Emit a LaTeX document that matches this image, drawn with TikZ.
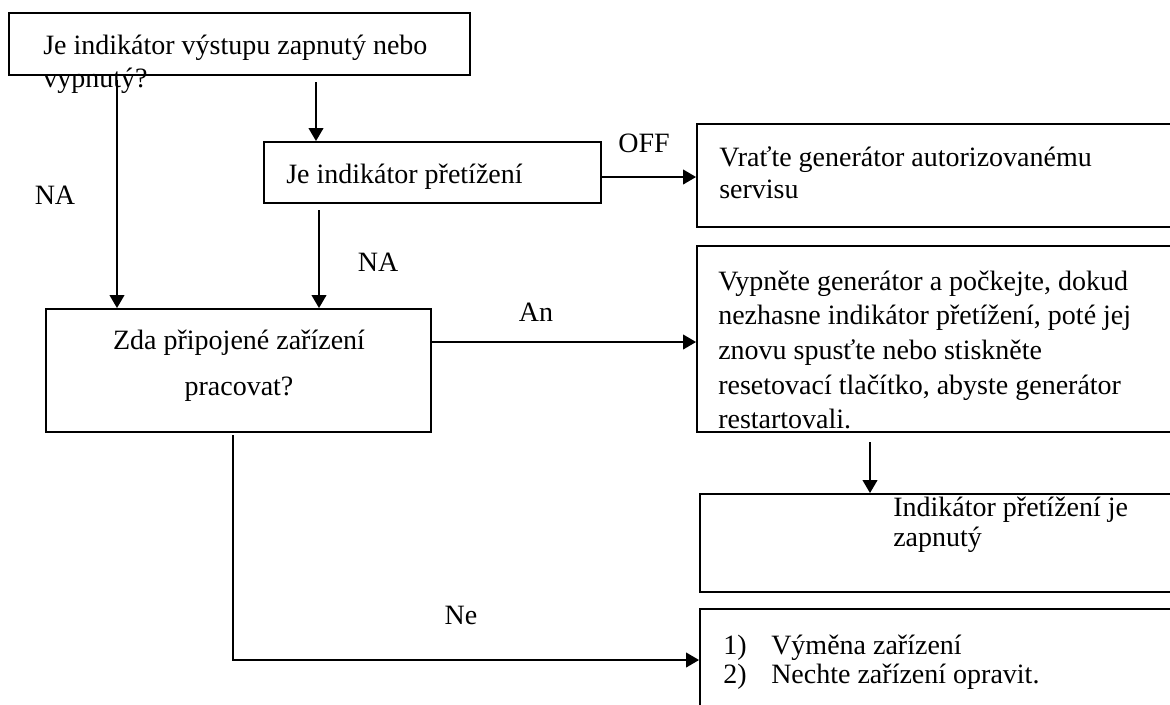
\documentclass[tikz,border=0pt]{standalone}
\usepackage{fontspec}
\setmainfont{Liberation Serif}
\usetikzlibrary{arrows.meta}
\usetikzlibrary{fit}

\tikzset{
  flowbox/.style={draw, line width=1.4pt, inner sep=0pt},
  flowarrow/.style={line width=1.4pt, -{Triangle[length=9.75pt,width=11pt]}},
  flowtext/.style={inner sep=0.75pt, font=\fontsize{21}{25}\selectfont, align=left},
}

\begin{document}
\begin{tikzpicture}[x=0.75pt,y=0.75pt,yscale=-1,xscale=1]
\clip (0,0) rectangle (1170,704);

%Flowchart: Process
\node [flowbox, fit={(9,13) (470,75)}] (q1) {};
%Flowchart: Process
\node [flowbox, fit={(264,142) (601,203)}] (q2) {};
%Flowchart: Process
\node [flowbox, fit={(46,309) (431,432)}] (q3) {};
%Flowchart: Process
\node [flowbox, fit={(697,124) (1190,227)}] (r1) {};
%Flowchart: Process
\node [flowbox, fit={(697,246) (1190,432)}] (r2) {};
%Flowchart: Process
\node [flowbox, fit={(700,494) (1190,592)}] (r3) {};
%Flowchart: Process
\node [flowbox, fit={(700,609) (1190,730)}] (r4) {};

%Straight Lines
\coordinate (c1) at (316,82);
\draw [flowarrow] (c1) -- (c1 |- q2.north);
%Straight Lines
\coordinate (c2) at (117,80);
\draw [flowarrow] (c2) -- (c2 |- q3.north);
%Straight Lines
\coordinate (c3) at (319,210);
\draw [flowarrow] (c3) -- (c3 |- q3.north);
%Straight Lines
\draw [flowarrow] (q2.east |- 0,177) -- (r1.west |- 0,177);
%Straight Lines
\draw [flowarrow] (q3.east |- 0,342) -- (r2.west |- 0,342);
%Straight Lines
\coordinate (c5) at (870,442);
\draw [flowarrow] (c5) -- (c5 |- r3.north);
%Straight Lines
\coordinate (c6) at (233,435);
\draw [flowarrow] (c6) |- (r4.west |- 0,660);

% Text Node
\node [flowtext, anchor=west] (t1) at (42,64) {Je indikátor výstupu zapnutý nebo\\vypnutý?};
% Text Node
\node [flowtext, anchor=west] (t2) at (285,177) {Je indikátor přetížení};
% Text Node
\node [flowtext, align=center, font=\fontsize{21}{34.5}\selectfont] (t3) at (239,366) {Zda připojené zařízení\\pracovat?};
% Text Node
\node [flowtext, anchor=west, font=\fontsize{21}{24}\selectfont] (t4) at (718,173) {Vraťte generátor autorizovanému\\servisu};
% Text Node
\node [flowtext, anchor=west, font=\fontsize{21}{26}\selectfont] (t5) at (717,350) {Vypněte generátor a počkejte, dokud\\nezhasne indikátor přetížení, poté jej\\znovu spusťte nebo stiskněte\\resetovací tlačítko, abyste generátor\\restartovali.};
% Text Node
\node [flowtext, anchor=west, font=\fontsize{21}{22.5}\selectfont] (t6) at (892,525) {Indikátor přetížení je\\zapnutý};
% Text Node
\node [flowtext, anchor=west, font=\fontsize{21}{22}\selectfont] (t7) at (722,662) {\makebox[36pt][l]{1)}Výměna zařízení\\\makebox[36pt][l]{2)}Nechte zařízení opravit.};

% Text Node
\node [flowtext] (na1) at (55,195) {NA};
% Text Node
\node [flowtext] (na2) at (378,262) {NA};
% Text Node
\node [flowtext] (off) at (644,143) {OFF};
% Text Node
\node [flowtext] (an) at (536,312) {An};
% Text Node
\node [flowtext] (ne) at (461,615) {Ne};

\end{tikzpicture}
\end{document}
